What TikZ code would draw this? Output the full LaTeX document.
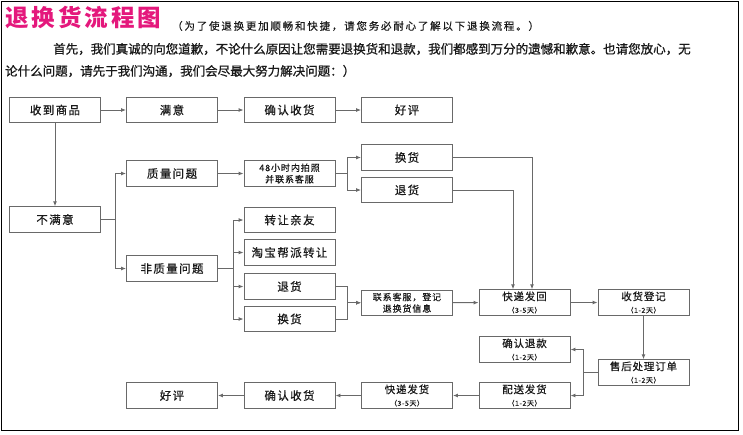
\documentclass[tikz,border=0pt]{standalone}
\usepackage{fontspec}
\setmainfont{Noto Sans CJK SC}
\usetikzlibrary{arrows.meta}
\definecolor{ttl}{RGB}{228,24,124}
\definecolor{ln}{RGB}{105,105,105}
\definecolor{tx}{RGB}{25,25,25}
\begin{document}
\begin{tikzpicture}[x=1pt,y=-1pt,
  box/.style={draw=ln,line width=0.9pt,minimum width=91pt,minimum height=25.5pt,inner sep=0pt,text=tx,align=center,
    font=\fontsize{11.5}{12}\selectfont\addfontfeature{LetterSpace=12,FakeBold=0.6}},
  twobox/.style={box,font=\fontsize{10.5}{12.5}\selectfont\addfontfeature{LetterSpace=8,FakeBold=0.6}},
  smallbox/.style={box,font=\fontsize{9}{11.5}\selectfont\addfontfeature{LetterSpace=10,FakeBold=0.5}},
  conn/.style={draw=ln,line width=0.9pt,-{Latex[length=5pt,width=4pt]}},
  txt/.style={inner sep=0pt,anchor=west,text=tx}]
\useasboundingbox (0,0) rectangle (743,434);
\draw[line width=1pt,black] (1,1) rectangle (738,430);
% header
\node[txt,text=ttl,font=\fontsize{23.5}{24}\selectfont\bfseries\addfontfeature{LetterSpace=13}] (title) at (5,17) {退换货流程图};
\node[txt,font=\fontsize{10.5}{11}\selectfont\addfontfeature{LetterSpace=17,FakeBold=0.4}] (sub) at (172,26) {（为了使退换更加顺畅和快捷，请您务必耐心了解以下退换流程。）};
\node[txt,font=\fontsize{12.5}{13}\selectfont\addfontfeature{FakeBold=0.9}] (p1) at (53,49) {首先，我们真诚的向您道歉，不论什么原因让您需要退换货和退款，我们都感到万分的遗憾和歉意。也请您放心，无};
\node[txt,font=\fontsize{12.5}{13}\selectfont\addfontfeature{FakeBold=0.9}] (p2) at (5,71) {论什么问题，请先于我们沟通，我们会尽最大努力解决问题：）};
% row 1
\node[box] (recv) at (55,110) {收到商品};
\node[box] (sat) at (172,110) {满意};
\node[box] (conf1) at (289.5,110) {确认收货};
\node[box] (good1) at (407,110) {好评};
% unsatisfied
\node[box] (unsat) at (55,219.5) {不满意};
\node[box] (qual) at (172,173.5) {质量问题};
\node[box] (nqual) at (172,268.5) {非质量问题};
\node[smallbox] (h48) at (289.5,173.5) {48小时内拍照\\并联系客服};
\node[box] (hh1) at (407,157.5) {换货};
\node[box] (th1) at (407,190) {退货};
\node[box] (zr) at (289.5,220) {转让亲友};
\node[box] (tb) at (289.5,252.5) {淘宝帮派转让};
\node[box] (th2) at (289.5,286.5) {退货};
\node[box] (hh2) at (289.5,319) {换货};
\node[smallbox] (lx) at (407,302.75) {联系客服，登记\\退换货信息};
\node[twobox] (kdh) at (524.5,302.5) {快递发回\\{\fontsize{7}{8}\selectfont（3-5天）}};
\node[twobox] (shdj) at (643.5,302.5) {收货登记\\{\fontsize{7}{8}\selectfont（1-2天）}};
\node[twobox] (shcl) at (643.5,372.5) {售后处理订单\\{\fontsize{7}{8}\selectfont（1-2天）}};
\node[twobox] (qrtk) at (524.5,349.5) {确认退款\\{\fontsize{7}{8}\selectfont（1-2天）}};
\node[twobox] (psfh) at (524.5,395.5) {配送发货\\{\fontsize{7}{8}\selectfont（1-2天）}};
\node[twobox] (kdfh) at (407,395.5) {快递发货\\{\fontsize{7}{8}\selectfont（3-5天）}};
\node[box] (conf2) at (289.5,395.5) {确认收货};
\node[box] (good2) at (172,395.5) {好评};
% connectors
\draw[conn] (recv) -- (sat);
\draw[conn] (sat) -- (conf1);
\draw[conn] (conf1) -- (good1);
\draw[conn] (recv.south) -- (unsat.north);
\draw[conn] (unsat.east) -- ++(14,0) |- (qual.west);
\draw[conn] (unsat.east) -- ++(14,0) |- (nqual.west);
\draw[conn] (qual) -- (h48);
\draw[conn] (h48.east) -- ++(12,0) |- (hh1.west);
\draw[conn] (h48.east) -- ++(12,0) |- (th1.west);
\draw[conn] (hh1.east) -| ([xshift=7.5pt]kdh.north);
\draw[conn] (th1.east) -| ([xshift=-11.5pt]kdh.north);
\draw[conn] (nqual.east) -- ++(15,0) |- (zr.west);
\draw[conn] (nqual.east) -- ++(15,0) |- (tb.west);
\draw[conn] (nqual.east) -- ++(15,0) |- (th2.west);
\draw[conn] (nqual.east) -- ++(15,0) |- (hh2.west);
\draw[conn] (th2.east) -- ++(12,0) |- (lx.west);
\draw[conn] (hh2.east) -- ++(12,0) |- (lx.west);
\draw[conn] (lx) -- (kdh);
\draw[conn] (kdh) -- (shdj);
\draw[conn] (shdj) -- (shcl);
\draw[conn] (shcl.west) -- ++(-14,0) |- (qrtk.east);
\draw[conn] (shcl.west) -- ++(-14,0) |- (psfh.east);
\draw[conn] (psfh) -- (kdfh);
\draw[conn] (kdfh) -- (conf2);
\draw[conn] (conf2) -- (good2);
\end{tikzpicture}
\end{document}
